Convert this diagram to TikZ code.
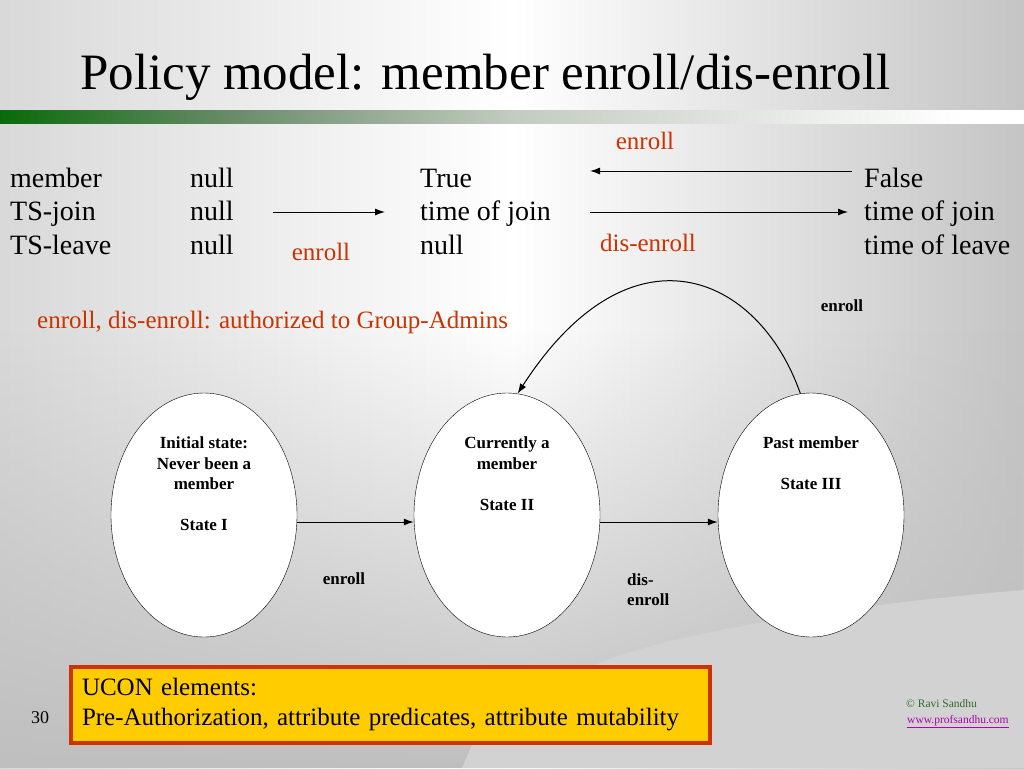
\documentclass[tikz,border=0pt]{standalone}
\usepackage{fontspec}
\setmainfont{Liberation Serif}
\usetikzlibrary{shapes.geometric,arrows.meta,calc,fadings,positioning}

\definecolor{actred}{HTML}{CC3300}
\definecolor{boxfill}{HTML}{FFCC00}
\definecolor{barGreen}{HTML}{0A6A0A}
\definecolor{midGreen}{HTML}{6E8E6E}
\definecolor{paleGreen}{HTML}{C2CCC0}
\definecolor{curlgray}{HTML}{D2D2D2}
\definecolor{copygreen}{HTML}{2E6B2E}
\definecolor{linkpink}{HTML}{B000B0}

\pgfdeclarehorizontalshading{greenbar}{100bp}{color(0bp)=(barGreen); color(25bp)=(barGreen); color(37bp)=(midGreen); color(50bp)=(paleGreen); color(72bp)=(white); color(100bp)=(white)}

\tikzset{
  attr/.style={anchor=base west, inner sep=0pt, font=\fontsize{28}{34}\selectfont},
  act/.style={inner sep=0pt, text=actred, font=\fontsize{25}{30}\selectfont},
  state/.style={ellipse, draw, fill=white, minimum width=186pt, minimum height=244pt, inner sep=0pt},
  stlabel/.style={inner sep=0pt, font=\fontsize{17}{20.5}\selectfont\bfseries, align=center},
  trans/.style={-{Latex[length=10pt,width=7pt]}, line width=1pt},
}

\begin{document}
\begin{tikzpicture}[x=1pt,y=-1pt]
  \useasboundingbox (0,0) rectangle (1024,768);

  % background
  \shade[left color=gray!30, right color=gray!46, middle color=white] (0,0) rectangle (1024,768);
  \fill[gray!50, path fading=north] (0,330) rectangle (1024,768);
  \fill[curlgray] (1024,590) .. controls (900,600) and (700,625) .. (607,660)
    .. controls (530,690) and (485,720) .. (472,745) -- (462,768) -- (1024,768) -- cycle;
  \shade[shading=greenbar] (0,110) rectangle (1024,123);

  % title
  \node[anchor=base west, inner sep=0pt, font=\fontsize{51}{60}\selectfont] (title) at (80,89)
    {Policy model: member enroll/dis-enroll};

  % attribute table
  \node[attr] (nm1) at (10,187) {member};
  \node[attr] (nm2) at (10,220.5) {TS-join};
  \node[attr] (nm3) at (10,254) {TS-leave};
  \node[attr] (nl1) at (190,187) {null};
  \node[attr] (nl2) at (190,220.5) {null};
  \node[attr] (nl3) at (190,254) {null};
  \node[attr] (cu1) at (420,187) {True};
  \node[attr] (cu2) at (420,220.5) {time of join};
  \node[attr] (cu3) at (420,254) {null};
  \node[attr] (pa1) at (864,187) {False};
  \node[attr] (pa2) at (864,220.5) {time of join};
  \node[attr] (pa3) at (864,254) {time of leave};

  \draw[trans] ($(nl2.base east)+(39,-8.5)$) -- ($(cu2.base west)+(-35,-8.5)$);
  \draw[trans] ($(pa1.base west)+(-12,-16)$) -- ($(cu2.base east)+(39,-49.5)$);
  \draw[trans] ($(cu2.base east)+(39,-8.5)$) -- ($(pa2.base west)+(-16,-8.5)$);

  \node[act] (en1) at (321,252) {enroll};
  \node[act] (en2) at (645,141) {enroll};
  \node[act] (den) at (648,243) {dis-enroll};
  \node[act, anchor=west] (rule) at (37,322) {enroll, dis-enroll: authorized to Group-Admins};

  % states
  \node[state] (s1) at (204,515) {};
  \node[state] (s2) at (507,515) {};
  \node[state] (s3) at (811,515) {};

  \node[stlabel, below=44pt of s1.north] (t1) {Initial state:\\Never been a\\member\\[20.5pt]State I};
  \node[stlabel, below=44pt of s2.north] (t2) {Currently a\\member\\[20.5pt]State II};
  \node[stlabel, below=44pt of s3.north] (t3) {Past member\\[20.5pt]State III};

  \draw[trans] ([yshift=-7pt]s1.east) -- ([yshift=-7pt]s2.west);
  \draw[trans] ([yshift=-7pt]s2.east) -- ([yshift=-7pt]s3.west);
  \draw[trans] (s3.95) .. controls +(-42,-120) and +(113,-175) .. (s2.85);

  \node[stlabel] (tr1) at (344,579) {enroll};
  \node[stlabel, align=left, anchor=north west] (tr2) at (627,573) {dis-\\enroll};
  \node[stlabel] (tr3) at (842,306) {enroll};

  % bottom
  \node[draw=actred, line width=4pt, fill=boxfill, anchor=north west, minimum height=76pt,
    text width=617pt, inner xsep=11pt, inner ysep=6pt, align=left,
    font=\fontsize{25}{30}\selectfont] (ucon) at (69,665)
    {UCON elements:\\Pre-Authorization, attribute predicates, attribute mutability};
  \node[font=\fontsize{18}{20}\selectfont, inner sep=0pt] (pgno) at (40,718) {30};
  \node[anchor=base west, inner sep=0pt, text=copygreen, font=\fontsize{11.5}{14}\selectfont] (copy) at (906,707) {\textcopyright\ Ravi Sandhu};
  \node[anchor=base west, inner sep=0pt, text=linkpink, font=\fontsize{11.5}{14}\selectfont] (url) at (907,723) {\underline{www.profsandhu.com}};
\end{tikzpicture}
\end{document}
